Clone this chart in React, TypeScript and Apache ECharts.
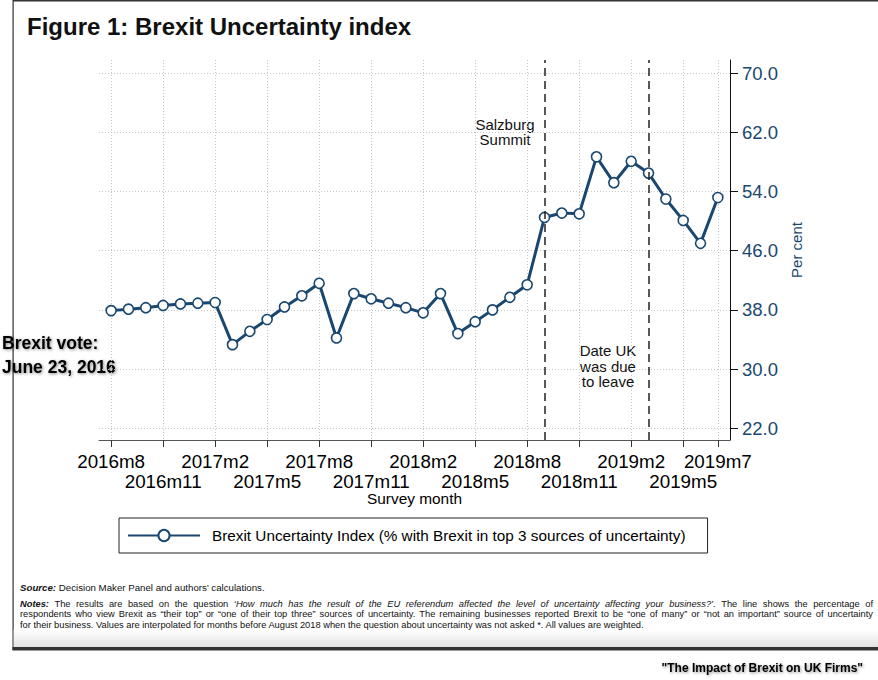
import React, { useEffect, useRef } from 'react';
import * as echarts from 'echarts';

// survey months, 2016m8 .. 2019m7
const months = [
  '2016m8', '2016m9', '2016m10', '2016m11', '2016m12', '2017m1', '2017m2', '2017m3', '2017m4',
  '2017m5', '2017m6', '2017m7', '2017m8', '2017m9', '2017m10', '2017m11', '2017m12', '2018m1',
  '2018m2', '2018m3', '2018m4', '2018m5', '2018m6', '2018m7', '2018m8', '2018m9', '2018m10',
  '2018m11', '2018m12', '2019m1', '2019m2', '2019m3', '2019m4', '2019m5', '2019m6', '2019m7'
];

const uncertainty = [
  37.9, 38.1, 38.3, 38.6, 38.8, 38.9, 39.0, 33.3, 35.1, 36.7, 38.4, 39.9,
  41.6, 34.2, 40.2, 39.5, 38.9, 38.3, 37.6, 40.2, 34.8, 36.4, 38.0, 39.7,
  41.4, 50.5, 51.1, 51.0, 58.7, 55.2, 58.1, 56.5, 53.0, 50.1, 47.0, 53.2
];

// tick labels: upper row and lower (staggered) row
const xTickLabelsTop = ['2016m8', '2017m2', '2017m8', '2018m2', '2018m8', '2019m2', '2019m7'];
const xTickLabelsBottom = ['2016m11', '2017m5', '2017m11', '2018m5', '2018m11', '2019m5'];
const yTickValues = [22, 30, 38, 46, 54, 62, 70];
const eventMonths = ['2018m9', '2019m3'];

const seriesName = 'Brexit Uncertainty Index (% with Brexit in top 3 sources of uncertainty)';
const navy = '#1a476f';
const FONT = '"Liberation Sans", Arial, Helvetica, sans-serif';

type Seg = [string, string];
const notesLine1: Seg[] = [
  ['bold italic', 'Notes:'],
  ['normal', 'The results are based on the question'],
  ['italic', '\u2018How much has the result of the EU referendum affected the level of uncertainty affecting your business?\u2019.'],
  ['normal', 'The line shows the percentage of']
];
const notesLine2: Seg[] = [
  ['normal', 'respondents who view Brexit as \u201ctheir top\u201d or \u201cone of their top three\u201d sources of uncertainty. The remaining businesses reported Brexit to be \u201cone of many\u201d or \u201cnot an important\u201d source of uncertainty']
];
const notesLine3 = 'for their business. Values are interpolated for months before August 2018 when the question about uncertainty was not asked *. All values are weighted.';

const justify = (segs: Seg[], x0: number, x1: number, y: number, size: number) => {
  const ctx = document.createElement('canvas').getContext('2d')!;
  const words: { t: string; s: string; w: number }[] = [];
  segs.forEach(([s, text]) => {
    text.split(' ').forEach(t => {
      ctx.font = `${s} ${size}px ${FONT}`;
      words.push({ t, s, w: ctx.measureText(t).width });
    });
  });
  const total = words.reduce((a, b) => a + b.w, 0);
  const gap = (x1 - x0 - total) / (words.length - 1);
  let x = x0;
  return words.map(wd => {
    const el = {
      type: 'text',
      x,
      y,
      style: {
        text: wd.t,
        fontSize: size,
        fontFamily: FONT,
        fontStyle: wd.s.includes('italic') ? 'italic' : 'normal',
        fontWeight: wd.s.includes('bold') ? 'bold' : 'normal',
        fill: '#111',
        verticalAlign: 'middle'
      }
    };
    x += wd.w + gap;
    return el;
  });
};

const App: React.FC = () => {
  const chartRef = useRef<HTMLDivElement>(null);

  useEffect(() => {
    if (!chartRef.current) return;
    const chart = echarts.init(chartRef.current, null, { renderer: 'svg' });

    const topIdx = xTickLabelsTop.map(l => months.indexOf(l));
    const bottomIdx = xTickLabelsBottom.map(l => months.indexOf(l));
    const allIdx = [...topIdx, ...bottomIdx].sort((a, b) => a - b);
    const gridLine = { show: true, lineStyle: { color: '#c8c8c8', type: [1, 2], width: 1 } };
    const tickFont = { color: '#000', fontSize: 18.8, fontFamily: FONT, showMinLabel: true, showMaxLabel: true };

    const option: echarts.EChartsOption = {
      animation: false,
      backgroundColor: '#fff',
      textStyle: { fontFamily: FONT },
      grid: { left: 99, right: 148, top: 60, bottom: 240, containLabel: false },
      xAxis: [
        {
          type: 'value',
          min: -0.7,
          max: 35.7,
          name: 'Survey month',
          nameLocation: 'middle',
          nameGap: 51,
          nameTextStyle: { color: '#000', fontSize: 15.4, fontFamily: FONT },
          axisLine: { show: true, onZero: false, lineStyle: { color: '#555', width: 1 } },
          axisTick: { show: true, length: 7, customValues: allIdx, lineStyle: { color: '#333' } },
          axisLabel: {
            ...tickFont,
            customValues: topIdx,
            margin: 12,
            formatter: (v: number) => months[v]
          },
          splitLine: gridLine
        },
        {
          type: 'value',
          min: -0.7,
          max: 35.7,
          position: 'bottom',
          axisLine: { show: false },
          axisTick: { show: false },
          splitLine: { show: false },
          axisLabel: {
            ...tickFont,
            customValues: bottomIdx,
            margin: 32,
            formatter: (v: number) => months[v]
          }
        }
      ],
      yAxis: {
        type: 'value',
        position: 'right',
        min: 20.4,
        max: 71.8,
        name: 'Per cent',
        nameLocation: 'middle',
        nameGap: 58,
        nameRotate: 90,
        nameTextStyle: { color: navy, fontSize: 15, fontFamily: FONT },
        axisLine: { show: true, onZero: false, lineStyle: { color: '#111', width: 1 } },
        axisTick: { show: true, length: 8, customValues: yTickValues, lineStyle: { color: '#111' } },
        axisLabel: {
          customValues: yTickValues,
          showMinLabel: true,
          showMaxLabel: true,
          color: navy,
          fontSize: 18.5,
          margin: 12,
          fontFamily: FONT,
          formatter: (v: number) => v.toFixed(1)
        },
        splitLine: gridLine
      },
      legend: {
        data: [seriesName],
        left: 119,
        top: 518,
        padding: [10, 22, 10, 8],
        borderColor: '#222',
        borderWidth: 1,
        itemWidth: 72,
        itemHeight: 14,
        textStyle: { color: '#000', fontSize: 15.3, fontFamily: FONT, padding: [0, 0, 0, 7] }
      },
      series: [
        {
          name: seriesName,
          type: 'line',
          xAxisIndex: 0,
          data: uncertainty.map((v, i) => [i, v]),
          symbol: 'circle',
          symbolSize: 10,
          itemStyle: { color: '#fff', borderColor: navy, borderWidth: 1.6 },
          lineStyle: { color: navy, width: 3 },
          z: 3,
          markLine: {
            silent: true,
            symbol: ['none', 'none'],
            label: { show: false },
            lineStyle: { color: '#222', type: [8, 5], width: 1.5 },
            data: eventMonths.map(m => ({ xAxis: months.indexOf(m) }))
          }
        }
      ],
      graphic: [
        { type: 'rect', shape: { x: 13, y: 0, width: 865, height: 1.5 }, style: { fill: '#333' } },
        { type: 'rect', shape: { x: 12.5, y: 0, width: 1.2, height: 650 }, style: { fill: '#333' } },
        {
          type: 'rect',
          shape: { x: 13.7, y: 630, width: 865, height: 17 },
          style: {
            fill: new echarts.graphic.LinearGradient(0, 0, 0, 1, [
              { offset: 0, color: '#ffffff' },
              { offset: 1, color: '#e2e2e2' }
            ])
          }
        },
        { type: 'rect', shape: { x: 12.5, y: 647, width: 866, height: 3.5 }, style: { fill: '#333' } },
        {
          type: 'text', x: 27, y: 26,
          style: { text: 'Figure 1: Brexit Uncertainty index', fontSize: 24, fontWeight: 'bold', fontFamily: FONT, fill: '#111', verticalAlign: 'middle' }
        },
        {
          type: 'text', x: 505, y: 132,
          style: { text: 'Salzburg\nSummit', fontSize: 15, lineHeight: 15.5, fontFamily: FONT, fill: '#111', align: 'center', verticalAlign: 'middle' }
        },
        {
          type: 'text', x: 608, y: 366,
          style: { text: 'Date UK\nwas due\nto leave', fontSize: 15, lineHeight: 15.5, fontFamily: FONT, fill: '#111', align: 'center', verticalAlign: 'middle' }
        },
        {
          type: 'text', x: 2, y: 355,
          style: {
            text: 'Brexit vote:\nJune 23, 2016', fontSize: 17.5, lineHeight: 24, fontWeight: 'bold', fontFamily: FONT,
            fill: '#000', verticalAlign: 'middle',
            textShadowColor: 'rgba(0,0,0,0.45)', textShadowBlur: 3, textShadowOffsetX: 1, textShadowOffsetY: 1
          }
        },
        {
          type: 'text', x: 863, y: 668,
          style: {
            text: '"The Impact of Brexit on UK Firms"', fontSize: 12, fontWeight: 'bold', fontFamily: FONT,
            fill: '#000', align: 'right', verticalAlign: 'middle',
            textShadowColor: 'rgba(0,0,0,0.45)', textShadowBlur: 3, textShadowOffsetX: 1, textShadowOffsetY: 1
          }
        },
        {
          type: 'text', x: 20, y: 587.5,
          style: {
            text: '{b|Source:} Decision Maker Panel and authors\u2019 calculations.',
            fontSize: 9.7, fontFamily: FONT, fill: '#111', verticalAlign: 'middle',
            rich: { b: { fontSize: 9.7, fontWeight: 'bold', fontStyle: 'italic', fontFamily: FONT, fill: '#111' } }
          }
        },
        ...justify(notesLine1, 20, 873, 603.5, 9.3),
        ...justify(notesLine2, 20, 873, 614, 9.3),
        {
          type: 'text', x: 20, y: 624.5,
          style: { text: notesLine3, fontSize: 9.3, fontFamily: FONT, fill: '#111', verticalAlign: 'middle' }
        }
      ] as any
    };

    chart.setOption(option);
    return () => chart.dispose();
  }, []);

  return (
    <div
      ref={chartRef}
      style={{ position: 'absolute', left: 0, top: 0, width: 878, height: 680, background: '#fff' }}
    />
  );
};

export default App;
